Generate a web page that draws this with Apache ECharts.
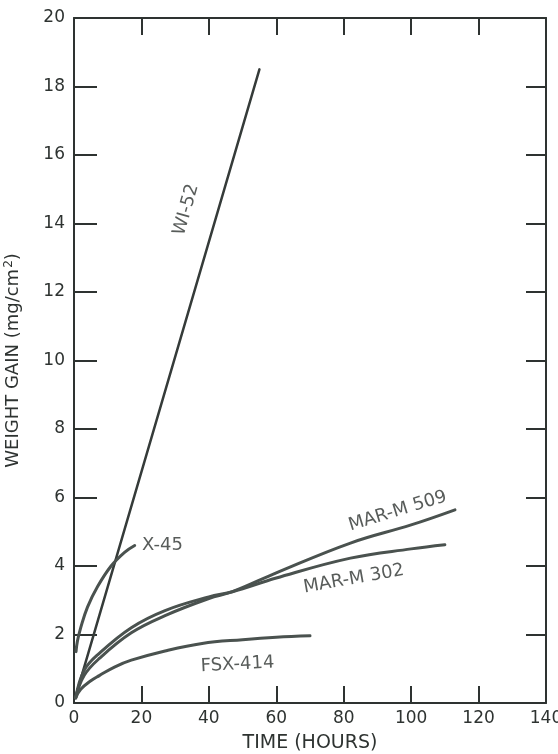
<!DOCTYPE html>
<html>
<head>
<meta charset="utf-8">
<script src="https://cdn.jsdelivr.net/npm/echarts@6/dist/echarts.min.js"></script>
<style>html,body{margin:0;padding:0;background:#fff;}#c{width:558px;height:754px;}</style>
</head>
<body>
<div id="c"></div>
<script>
// Axis ticks
const xTicks = [0, 20, 40, 60, 80, 100, 120, 140];
const yTicks = [0, 2, 4, 6, 8, 10, 12, 14, 16, 18, 20];

// Series data: [time (hours), weight gain (mg/cm^2)]
const wi52 = [[0.5, 0.2], [55, 18.5]];
const x45 = [[0.6, 1.5], [1, 1.8], [2, 2.2], [4, 2.8], [7, 3.4], [11, 4.0], [15, 4.4], [18, 4.6]];
const marm509 = [[0.5, 0.15], [3, 0.8], [7.5, 1.3], [17, 2.05], [27, 2.55], [40, 3.05], [47, 3.25], [60, 3.8], [82, 4.67], [100, 5.2], [113, 5.64]];
const marm302 = [[0.5, 0.15], [3, 0.95], [7.5, 1.45], [17, 2.2], [27, 2.7], [40, 3.1], [47, 3.25], [60, 3.65], [82, 4.23], [100, 4.5], [110, 4.62]];
const fsx414 = [[0.5, 0.15], [2, 0.4], [5, 0.65], [7.5, 0.8], [12, 1.05], [17, 1.25], [27, 1.52], [38, 1.74], [50, 1.85], [60, 1.92], [70, 1.96]];

// Curve labels: [x, y, text, rotation]
const curveLabels = [
  [33.3, 14.4, 'WI-52', 74],
  [20.2, 4.6, 'X-45', 0],
  [96, 5.6, 'MAR-M 509', 17],
  [83, 3.62, 'MAR-M 302', 10],
  [48.5, 1.12, 'FSX-414', 3]
];

const FONT = 'DejaVu Sans';
const ink = '#2e3331';
const lineCol = '#4a524f';

const chart = echarts.init(document.getElementById('c'), null, {renderer: 'canvas'});

function lineSeries(name, data, width, color) {
  return {
    name: name, type: 'line', data: data, smooth: 0.4, showSymbol: false,
    symbol: 'none', lineStyle: {width: width, color: color, cap: 'round'},
    animation: false, z: 3
  };
}

const axisCommon = {
  type: 'value', min: 0,
  axisLine: {show: true, onZero: false, lineStyle: {color: ink, width: 2}},
  splitLine: {show: false}
};

chart.setOption({
  animation: false,
  backgroundColor: '#fff',
  grid: {left: 74, right: 12, top: 18, bottom: 51, containLabel: false, outerBoundsMode: 'none'},
  xAxis: [
    Object.assign({}, axisCommon, {
      position: 'bottom', max: 140, interval: 20,
      axisTick: {show: true, inside: true, length: 17, lineStyle: {color: ink, width: 2}},
      axisLabel: {show: true, margin: 7, fontFamily: FONT, fontSize: 17, color: ink,
        formatter: v => xTicks.indexOf(v) >= 0 ? String(v) : ''},
      name: 'TIME (HOURS)', nameLocation: 'middle', nameGap: 31,
      nameTextStyle: {fontFamily: FONT, fontSize: 19, color: ink}
    }),
    Object.assign({}, axisCommon, {
      position: 'top', max: 140, interval: 20,
      axisTick: {show: true, inside: true, length: 17, lineStyle: {color: ink, width: 2}},
      axisLabel: {show: false}
    })
  ],
  yAxis: [
    Object.assign({}, axisCommon, {
      position: 'left', max: 20, interval: 2,
      axisTick: {show: true, inside: true, length: 23, lineStyle: {color: ink, width: 2}},
      axisLabel: {show: true, margin: 9, fontFamily: FONT, fontSize: 17, color: ink,
        formatter: v => yTicks.indexOf(v) >= 0 ? String(v) : ''},
      name: 'WEIGHT GAIN (mg/cm{sup|2})', nameLocation: 'middle', nameGap: 50, nameRotate: 90,
      nameTextStyle: {fontFamily: FONT, fontSize: 18, color: ink,
        rich: {sup: {fontFamily: FONT, fontSize: 12, color: ink, verticalAlign: 'top', padding: [0, 0, 9, 1]}}}
    }),
    Object.assign({}, axisCommon, {
      position: 'right', max: 20, interval: 2,
      axisTick: {show: true, inside: true, length: 20, lineStyle: {color: ink, width: 2}},
      axisLabel: {show: false}
    })
  ],
  series: [
    lineSeries('WI-52', wi52, 2.5, '#353b39'),
    lineSeries('X-45', x45, 3, lineCol),
    lineSeries('MAR-M 509', marm509, 3, lineCol),
    lineSeries('MAR-M 302', marm302, 3, lineCol),
    lineSeries('FSX-414', fsx414, 3, lineCol),
    {
      type: 'scatter', symbolSize: 0, animation: false, z: 5,
      data: curveLabels.map(d => ({
        value: [d[0], d[1]],
        label: {
          show: true, formatter: d[2], rotate: d[3],
          position: d[2] === 'X-45' ? 'right' : 'inside',
          distance: 0,
          fontFamily: FONT, fontSize: 18, color: ink
        }
      }))
    }
  ]
});
</script>
</body>
</html>
